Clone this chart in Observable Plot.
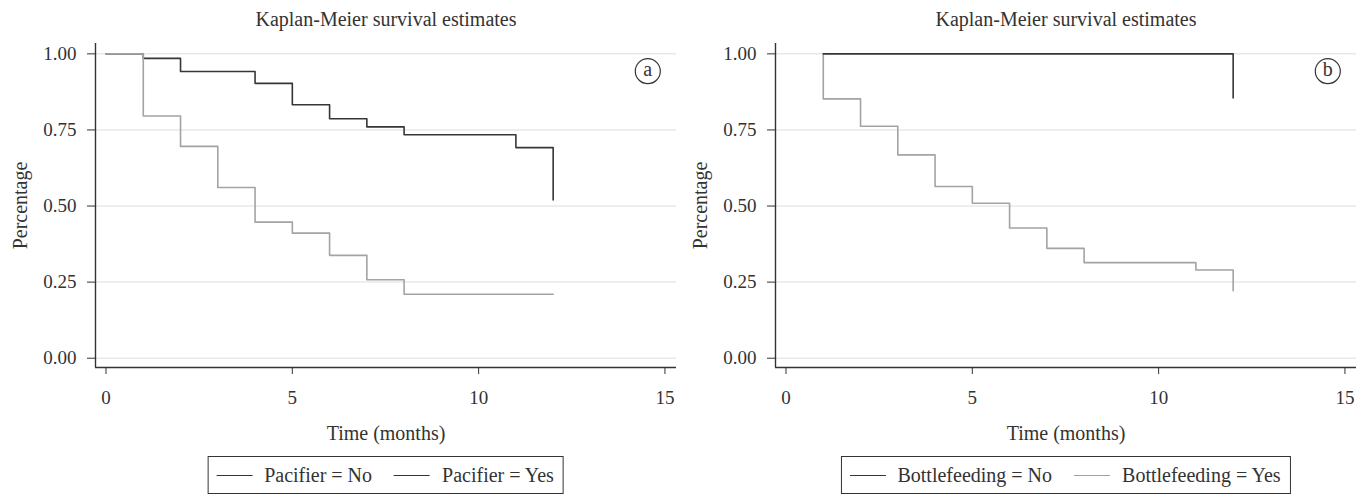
<!DOCTYPE html>
<html>
<head>
<meta charset="utf-8">
<script src="https://cdn.jsdelivr.net/npm/d3@7"></script>
<script src="https://cdn.jsdelivr.net/npm/@observablehq/plot@0.6"></script>
<style>
  html, body { margin: 0; padding: 0; background: #fff; }
  #wrap { position: relative; width: 1369px; height: 497px; overflow: hidden; font-family: "Liberation Serif", "DejaVu Serif", serif; color: #333; }
  .panel { position: absolute; top: 0; }
  .legend { position: absolute; top: 456px; height: 36px; transform: translateX(-50%);
            border: 1.5px solid #333; display: flex; align-items: center; padding: 0 9px 0 8px;
            font-size: 20px; white-space: nowrap; box-sizing: content-box; }
  .legend .sw { display: inline-block; width: 36px; height: 0; border-top: 1.6px solid #333; margin-right: 12px; }
  .legend .lab { margin-right: 22px; }
  .legend .lab:last-child { margin-right: 0; }
</style>
</head>
<body>
<div id="wrap"></div>
<script>
// ---- data ----
const titleText = "Kaplan-Meier survival estimates";
const xLabel = "Time (months)";
const yLabel = "Percentage";
const xTicks = [0, 5, 10, 15];
const yTicks = [0, 0.25, 0.5, 0.75, 1];
const panelTags = ["a", "b"];

const pacNoTime  = [0, 1, 2, 4, 5, 6, 7, 8, 11, 12];
const pacNoSurv  = [1, 0.985, 0.942, 0.903, 0.833, 0.787, 0.760, 0.734, 0.692, 0.520];
const pacYesTime = [0, 1, 2, 3, 4, 5, 6, 7, 8, 12];
const pacYesSurv = [1, 0.796, 0.696, 0.561, 0.447, 0.411, 0.338, 0.258, 0.210, 0.210];

const botNoTime  = [1, 12, 12];
const botNoSurv  = [1, 1, 0.855];
const botYesTime = [1, 1, 2, 3, 4, 5, 6, 7, 8, 11, 12];
const botYesSurv = [1, 0.852, 0.762, 0.668, 0.564, 0.509, 0.428, 0.361, 0.314, 0.290, 0.222];

const dark = "#363636";
const gray = "#a3a3a3";

const panels = [
  { left: 0, tag: panelTags[0],
    series: [
      { name: "Pacifier = No",  time: pacNoTime,  surv: pacNoSurv,  color: dark, legendColor: dark },
      { name: "Pacifier = Yes", time: pacYesTime, surv: pacYesSurv, color: gray, legendColor: dark }
    ], drawOrder: [0, 1] },
  { left: 680, tag: panelTags[1],
    series: [
      { name: "Bottlefeeding = No",  time: botNoTime,  surv: botNoSurv,  color: dark, legendColor: dark },
      { name: "Bottlefeeding = Yes", time: botYesTime, surv: botYesSurv, color: gray, legendColor: gray }
    ], drawOrder: [1, 0] }
];

const xDomain = [-0.282, 15.31];
const yDomain = [-0.0305, 1.034];

const wrap = document.getElementById("wrap");

for (const p of panels) {
  const lineMarks = p.drawOrder.map(i => {
    const s = p.series[i];
    const rows = s.time.map((t, j) => ({ t, s: s.surv[j] }));
    return Plot.line(rows, { x: "t", y: "s", stroke: s.color, strokeWidth: 1.6, curve: "step-after" });
  });

  const chart = Plot.plot({
    width: 684,
    height: 452,
    marginLeft: 95,
    marginRight: 8,
    marginTop: 43,
    marginBottom: 85,
    style: { fontFamily: "Liberation Serif, DejaVu Serif, serif", fontSize: "19px", color: "#333", background: "transparent" },
    x: { domain: xDomain, ticks: xTicks, tickSize: 7, tickPadding: 16, label: null, tickFormat: d3.format("d") },
    y: { domain: yDomain, ticks: yTicks, tickSize: 8, tickPadding: 11, label: null, tickFormat: d3.format(".2f") },
    marks: [
      Plot.ruleY(yTicks, { stroke: "#e8e8e8", strokeWidth: 1.5 }),
      Plot.ruleX([xDomain[0]], { stroke: "#333", strokeWidth: 1.4 }),
      Plot.ruleY([yDomain[0]], { stroke: "#333", strokeWidth: 1.4 }),
      ...lineMarks,
      Plot.dot([p.tag], { frameAnchor: "top-right", dx: -28.7, dy: 27.7, r: 12.5, stroke: "#333", strokeWidth: 1.2, fill: "white" }),
      Plot.text([p.tag], { text: d => d, frameAnchor: "top-right", dx: -28.7, dy: 26.5, fontSize: 20, textAnchor: "middle", lineAnchor: "middle", fill: "#333" }),
      Plot.text([titleText], { text: d => d, frameAnchor: "top", dy: -24, fontSize: 20, textAnchor: "middle", lineAnchor: "middle", fill: "#333" }),
      Plot.text([xLabel], { text: d => d, frameAnchor: "bottom", dy: 66, fontSize: 20, textAnchor: "middle", lineAnchor: "middle", fill: "#333" }),
      Plot.text([yLabel], { text: d => d, frameAnchor: "left", dx: -74.5, rotate: -90, fontSize: 20, textAnchor: "middle", lineAnchor: "middle", fill: "#333" })
    ]
  });
  chart.classList.add("panel");
  chart.style.left = p.left + "px";
  wrap.appendChild(chart);

  const leg = document.createElement("div");
  leg.className = "legend";
  leg.style.left = (p.left + 385.5) + "px";
  for (const s of p.series) {
    const sw = document.createElement("span");
    sw.className = "sw";
    sw.style.borderTopColor = s.legendColor;
    const lab = document.createElement("span");
    lab.className = "lab";
    lab.textContent = s.name;
    leg.appendChild(sw);
    leg.appendChild(lab);
  }
  wrap.appendChild(leg);
}
</script>
</body>
</html>
